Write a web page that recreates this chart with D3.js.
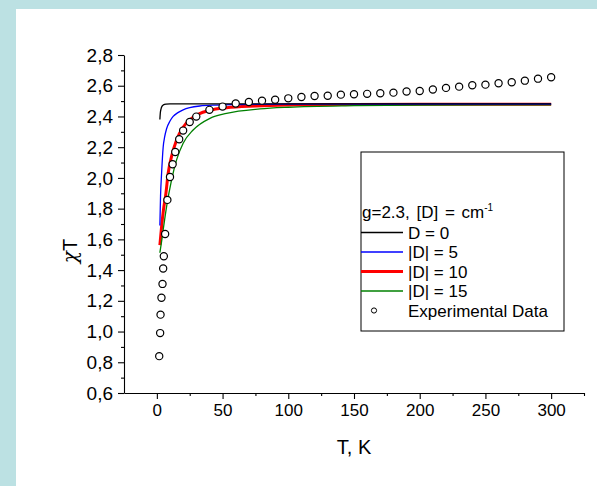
<!DOCTYPE html>
<html><head><meta charset="utf-8">
<script src="https://cdn.jsdelivr.net/npm/d3@7"></script>
<style>body{margin:0;background:#fff}svg{display:block}text{font-family:"Liberation Sans",Arial,sans-serif;fill:#000}</style>
</head><body>
<script>
// Experimental data
const T_exp = [1.8, 2.5, 2.8, 3.5, 4.3, 4.8, 5.3, 6.3, 8, 10, 12, 14, 17, 20, 25, 30, 40, 50, 60, 70, 80, 90, 100, 110, 120, 130, 140, 150, 160, 170, 180, 190, 200, 210, 220, 230, 240, 250, 260, 270, 280, 290, 300];
const chiT_exp = [0.84, 0.99, 1.11, 1.22, 1.31, 1.41, 1.49, 1.635, 1.857, 2.006, 2.089, 2.169, 2.252, 2.308, 2.364, 2.399, 2.443, 2.464, 2.484, 2.494, 2.503, 2.509, 2.518, 2.527, 2.533, 2.535, 2.542, 2.545, 2.547, 2.551, 2.555, 2.562, 2.566, 2.575, 2.586, 2.594, 2.603, 2.607, 2.616, 2.623, 2.633, 2.646, 2.655];
// Model curves
const T_D0 = [2.3, 2.6, 3.2, 4, 5, 7, 10, 20, 50, 100, 200, 300];
const chiT_D0 = [2.38, 2.42, 2.45, 2.467, 2.475, 2.48, 2.482, 2.482, 2.482, 2.482, 2.482, 2.482];
const T_D5 = [2.3, 2.8, 3.6, 4.8, 6, 7.4, 10, 12.4, 16, 20, 25, 32.7, 45, 60, 100, 200, 300];
const chiT_D5 = [1.69, 1.88, 2.03, 2.20, 2.27, 2.32, 2.37, 2.40, 2.425, 2.443, 2.457, 2.468, 2.474, 2.477, 2.48, 2.481, 2.481];
const T_D10 = [2.3, 3.6, 5, 6.9, 8.6, 11.2, 15, 20, 27.6, 40.4, 53, 75, 100, 150, 200, 300];
const chiT_D10 = [1.563, 1.683, 1.79, 1.90, 2.03, 2.14, 2.247, 2.33, 2.395, 2.44, 2.457, 2.468, 2.474, 2.478, 2.48, 2.48];
const T_D15 = [2.3, 3.5, 4.8, 7.4, 11.2, 15, 20, 27.6, 40.4, 53, 78.4, 100, 150, 200, 300];
const chiT_D15 = [1.513, 1.58, 1.661, 1.813, 1.987, 2.117, 2.226, 2.312, 2.388, 2.42, 2.449, 2.46, 2.47, 2.474, 2.476];
const legendLabels = ["D = 0", "|D| = 5", "|D| = 10", "|D| = 15", "Experimental Data"];
const xTicks = [0, 50, 100, 150, 200, 250, 300];
const xMinor = [25, 75, 125, 175, 225, 275, 325];
const yTicks = [0.6, 0.8, 1.0, 1.2, 1.4, 1.6, 1.8, 2.0, 2.2, 2.4, 2.6, 2.8];
const yMinor = [0.7, 0.9, 1.1, 1.3, 1.5, 1.7, 1.9, 2.1, 2.3, 2.5, 2.7];

const W = 597, H = 486;
const svg = d3.select("body").append("svg").attr("width", W).attr("height", H);
svg.append("rect").attr("width", W).attr("height", H).attr("fill", "#bce1e3");
svg.append("rect").attr("x", 16).attr("y", 9).attr("width", W - 16).attr("height", H - 9).attr("fill", "#fff");

const x = d3.scaleLinear().domain([-25, 325]).range([124, 584]);
const y = d3.scaleLinear().domain([0.6, 2.8]).range([393, 55]);

const fmtY = d => d.toFixed(1).replace(".", ",");

// X axis
const gx = svg.append("g").attr("transform", "translate(0,393)");
gx.call(d3.axisBottom(x).tickValues(xTicks).tickSize(6).tickSizeOuter(0).tickPadding(5).tickFormat(d3.format("d")));
gx.append("g").call(d3.axisBottom(x).tickValues(xMinor).tickSize(3).tickSizeOuter(0).tickFormat(""))
  .select(".domain").remove();
gx.selectAll("text").attr("font-size", 17).attr("font-family", "Liberation Sans, Arial, sans-serif").attr("fill", "#000");
// Y axis
const gy = svg.append("g").attr("transform", "translate(124,0)");
gy.call(d3.axisLeft(y).tickValues(yTicks).tickSize(6).tickSizeOuter(0).tickPadding(5).tickFormat(fmtY));
gy.append("g").call(d3.axisLeft(y).tickValues(yMinor).tickSize(3).tickSizeOuter(0).tickFormat(""))
  .select(".domain").remove();
gy.selectAll("text").attr("font-size", 19).attr("font-family", "Liberation Sans, Arial, sans-serif").attr("fill", "#000");
svg.selectAll(".domain, .tick line").attr("stroke", "#000").attr("stroke-width", 1.1);

// Axis titles
svg.append("text").attr("x", 354).attr("y", 454).attr("text-anchor", "middle").attr("font-size", 20).text("T, K");
const yt = svg.append("text").attr("transform", "translate(77,251) rotate(-90)").attr("text-anchor", "middle").attr("font-size", 20);
yt.append("tspan").attr("font-family", "DejaVu Serif, serif").attr("font-style", "italic").text("χ");
yt.append("tspan").text("T");

// Curves
const series = [
  {T: T_D0, v: chiT_D0, color: "#000000", w: 1.3},
  {T: T_D5, v: chiT_D5, color: "#0000ff", w: 1.3},
  {T: T_D10, v: chiT_D10, color: "#ff0000", w: 3},
  {T: T_D15, v: chiT_D15, color: "#008000", w: 1.3}
];
const line = d3.line().x(d => x(d[0])).y(d => y(d[1])).curve(d3.curveMonotoneX);
const drawOrder = [2, 3, 1, 0];
drawOrder.forEach(i => {
  const s = series[i];
  svg.append("path").datum(s.T.map((t, j) => [t, s.v[j]]))
    .attr("d", line).attr("fill", "none").attr("stroke", s.color).attr("stroke-width", s.w);
});

// Experimental points
svg.append("g").selectAll("circle").data(T_exp.map((t, j) => [t, chiT_exp[j]])).join("circle")
  .attr("cx", d => x(d[0])).attr("cy", d => y(d[1])).attr("r", 3.6)
  .attr("fill", "#fff").attr("stroke", "#000").attr("stroke-width", 1.2);

// Legend
const lg = svg.append("g");
lg.append("rect").attr("x", 361).attr("y", 152).attr("width", 203).attr("height", 179)
  .attr("fill", "#fff").attr("stroke", "#000").attr("stroke-width", 1);
const title = lg.append("text").attr("x", 362).attr("y", 218).attr("font-size", 17).attr("word-spacing", 2);
title.append("tspan").text("g=2.3, [D] = cm");
title.append("tspan").attr("font-size", 10).attr("dy", -7).text("-1");
legendLabels.forEach((lab, i) => {
  const ly = 232.5 + i * 19.5;
  if (i < 4) {
    lg.append("line").attr("x1", 361).attr("x2", 403).attr("y1", ly).attr("y2", ly)
      .attr("stroke", series[i].color).attr("stroke-width", series[i].w);
  } else {
    lg.append("circle").attr("cx", 374).attr("cy", ly).attr("r", 2.6)
      .attr("fill", "#fff").attr("stroke", "#000").attr("stroke-width", 1);
  }
  lg.append("text").attr("x", 408).attr("y", ly + 6).attr("font-size", 17).text(lab);
});
</script>
</body></html>
